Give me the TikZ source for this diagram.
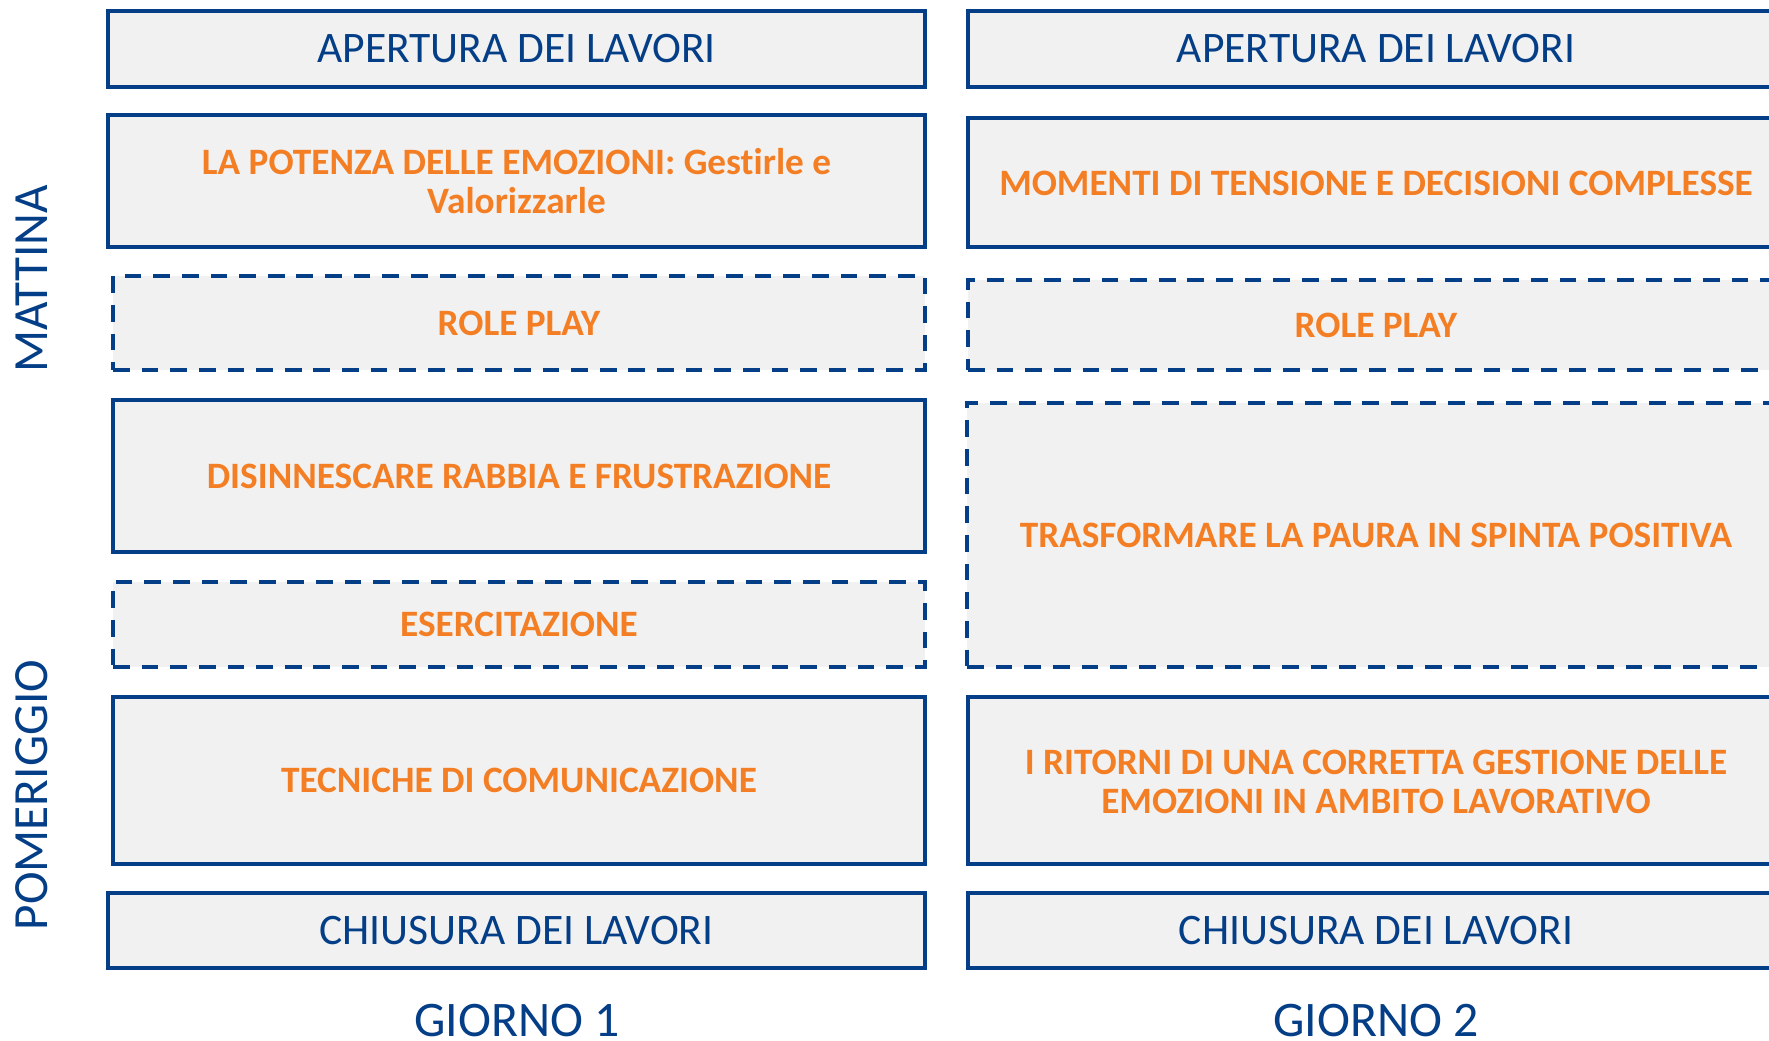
\documentclass[tikz,border=0pt]{standalone}
\usepackage{fontspec}
\setmainfont[Ligatures={NoCommon}]{Carlito}
\usetikzlibrary{fit,positioning}

\definecolor{navy}{RGB}{4,62,135}
\definecolor{tangerine}{RGB}{244,126,36}
\definecolor{panel}{RGB}{241,241,241}

\tikzset{
  slot/.style={draw=navy, fill=panel, line width=2.2pt, inner sep=0pt},
  dashslot/.style={slot, dash pattern=on 9.5pt off 6.8pt},
  headtxt/.style={text=navy, font=\fontsize{24.8}{28}\selectfont},
  topictxt/.style={text=tangerine, align=center, font=\bfseries\fontsize{21.2}{22.5}\selectfont},
  sidetxt/.style={text=navy, rotate=90, font=\fontsize{28}{30}\selectfont},
  daytxt/.style={text=navy, anchor=base, inner sep=0pt, font=\fontsize{28.3}{30}\selectfont},
}

\begin{document}
\begin{tikzpicture}[x=0.02cm, y=-0.02cm]
  \clip (0,0) rectangle (1769,1041);
  \fill[white] (0,0) rectangle (1769,1041);

  % Giorno 1
  \node[slot, fit={(108,11) (925,87)}] (openA) {};
  \node[slot, fit={(108,115) (925,247)}] (emoA) {};
  \node[dashslot, fit={(113,276) (925,370)}] (roleA) {};
  \node[slot, fit={(113,400) (925,552)}] (rageA) {};
  \node[dashslot, fit={(113,582) (925,667)}] (drillA) {};
  \node[slot, fit={(113,697) (925,864)}] (talkA) {};
  \node[slot, fit={(108,893) (925,968)}] (closeA) {};

  \node[headtxt] (openAt) at (openA.center) {APERTURA DEI LAVORI};
  \node[topictxt] (emoAt) at (emoA.center) {LA POTENZA DELLE EMOZIONI: Gestirle e\\Valorizzarle};
  \node[topictxt] (roleAt) at (roleA.center) {ROLE PLAY};
  \node[topictxt] (rageAt) at (rageA.center) {DISINNESCARE RABBIA E FRUSTRAZIONE};
  \node[topictxt] (drillAt) at (drillA.center) {ESERCITAZIONE};
  \node[topictxt] (talkAt) at (talkA.center) {TECNICHE DI COMUNICAZIONE};
  \node[headtxt] (closeAt) at (closeA.center) {CHIUSURA DEI LAVORI};

  % Giorno 2 (runs past the right edge)
  \node[slot, fit={(968,11) (1800,87)}] (openB) {};
  \node[slot, fit={(968,118) (1800,247)}] (tensB) {};
  \node[dashslot, fit={(968,280) (1800,370)}] (roleB) {};
  \node[dashslot, fit={(967,403) (1800,667)}] (fearB) {};
  \node[slot, fit={(968,697) (1800,864)}] (gainB) {};
  \node[slot, fit={(968,893) (1800,968)}] (closeB) {};

  % texts of Giorno 2, centred on the visible part
  \node[headtxt] (openBt) at (1376,49) {APERTURA DEI LAVORI};
  \node[topictxt] (tensBt) at (1376,183) {MOMENTI DI TENSIONE E DECISIONI COMPLESSE};
  \node[topictxt] (roleBt) at (1376,325) {ROLE PLAY};
  \node[topictxt] (fearBt) at (1376,535) {TRASFORMARE LA PAURA IN SPINTA POSITIVA};
  \node[topictxt] (gainBt) at (1376,782) {I RITORNI DI UNA CORRETTA GESTIONE DELLE\\EMOZIONI IN AMBITO LAVORATIVO};
  \node[headtxt] (closeBt) at (1376,931) {CHIUSURA DEI LAVORI};

  % side and foot labels
  \node[sidetxt] (morning) at (32,279) {MATTINA};
  \node[sidetxt] (afternoon) at (32,795) {POMERIGGIO};
  \node[daytxt] (dayA) at (517,1036) {GIORNO 1};
  \node[daytxt] (dayB) at (1376,1036) {GIORNO 2};
\end{tikzpicture}
\end{document}
